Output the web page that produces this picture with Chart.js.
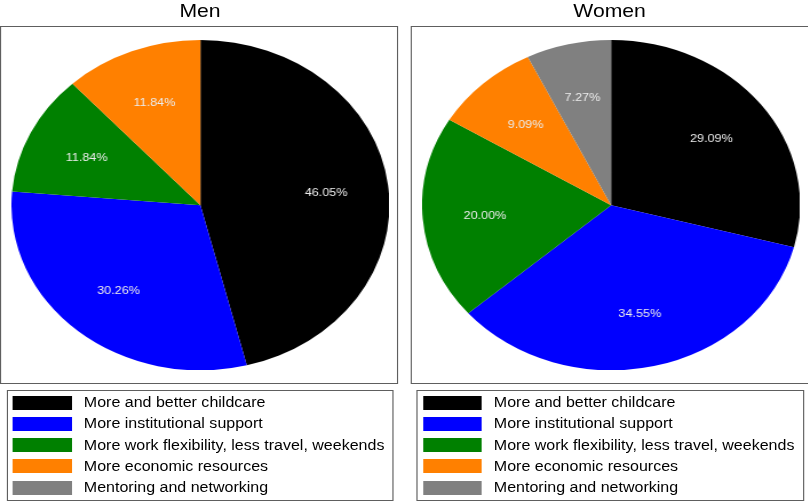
<!DOCTYPE html>
<html>
<head>
<meta charset="utf-8">
<script src="https://cdn.jsdelivr.net/npm/chart.js@4/dist/chart.umd.min.js"></script>
<style>
  html, body { margin: 0; padding: 0; background: #fff; overflow: hidden; }
  body { width: 808px; height: 501px; }
  /* the graph is laid out in a narrower frame and widened horizontally */
  #frame {
    position: absolute; left: 0; top: 0;
    width: 706.3px; height: 501px;
    transform: scaleX(1.144); transform-origin: 0 0;
    font-family: "Liberation Sans", Arial, Helvetica, sans-serif;
    color: #000;
  }
  .title { position: absolute; top: 1px; width: 200px; text-align: center;
           font-size: 18.5px; line-height: 20px; }
  .plotbox { position: absolute; border: 1px solid #5e5e5e; box-sizing: border-box; }
  .legbox { position: absolute; border: 1px solid #5e5e5e; box-sizing: border-box; }
  .sw { position: absolute; height: 14px; }
  .lt { position: absolute; font-size: 14px; height: 21px; line-height: 21px; white-space: nowrap; }
  .pie { position: absolute; width: 330.4px; height: 330.4px; }
</style>
</head>
<body>
<div id="frame">
  <div class="title" style="left:74.8px">Men</div>
  <div class="title" style="left:432.9px">Women</div>

  <div class="plotbox" style="left:0.4px; top:25.5px; width:347.7px; height:358.5px"></div>
  <div class="plotbox" style="left:358.8px; top:25.5px; width:360px; height:358.5px"></div>

  <div class="pie" style="left:9.6px; top:40.1px"><canvas id="men"></canvas></div>
  <div class="pie" style="left:368.5px; top:40.1px"><canvas id="women"></canvas></div>

  <div class="legbox" id="legMen" style="left:5.9px; top:389.5px; width:338.5px; height:111px"></div>
  <div class="legbox" id="legWomen" style="left:364.0px; top:389.5px; width:339px; height:111px"></div>
</div>

<script>
// Categories and shares (%) of each answer
const categories = [
  "More and better childcare",
  "More institutional support",
  "More work flexibility, less travel, weekends",
  "More economic resources",
  "Mentoring and networking"
];
const menShares   = [46.05, 30.26, 11.84, 11.84, 0];
const womenShares = [29.09, 34.55, 20.00, 9.09, 7.27];
const sliceColors = ["#000000", "#0000ff", "#008000", "#ff8000", "#808080"];

// Percentage labels placed inside each slice
const sliceLabels = {
  id: "sliceLabels",
  afterDatasetsDraw(chart) {
    const ctx = chart.ctx;
    const meta = chart.getDatasetMeta(0);
    const values = chart.data.datasets[0].data;
    ctx.save();
    ctx.font = '11px "Liberation Sans", Arial, sans-serif';
    ctx.fillStyle = "#ececec";
    ctx.textAlign = "center";
    ctx.textBaseline = "middle";
    meta.data.forEach((arc, i) => {
      if (!values[i]) return;
      const p = arc.getProps(["x", "y", "startAngle", "endAngle", "outerRadius"], true);
      const mid = (p.startAngle + p.endAngle) / 2;
      const r = p.outerRadius * 0.67;
      ctx.fillText(values[i].toFixed(2) + "%", p.x + Math.cos(mid) * r, p.y + Math.sin(mid) * r + 1);
    });
    ctx.restore();
  }
};

function makePie(id, values) {
  new Chart(document.getElementById(id), {
    type: "pie",
    data: {
      labels: categories,
      datasets: [{ data: values, backgroundColor: sliceColors, borderWidth: 0 }]
    },
    options: {
      responsive: true,
      maintainAspectRatio: false,
      animation: false,
      layout: { padding: 0 },
      plugins: { legend: { display: false }, tooltip: { enabled: false } }
    },
    plugins: [sliceLabels]
  });
}
makePie("men", menShares);
makePie("women", womenShares);

// Legend keys listed one per row
function makeLegend(boxId, swLeft, textLeft) {
  const frame = document.getElementById("frame");
  const box = document.getElementById(boxId);
  const left0 = parseFloat(box.style.left);
  categories.forEach((name, i) => {
    const cy = 402.5 + 21.3 * i;
    const sw = document.createElement("div");
    sw.className = "sw";
    sw.style.left = (left0 + swLeft) + "px";
    sw.style.width = "51.6px";
    sw.style.top = (cy - 7) + "px";
    sw.style.background = sliceColors[i];
    frame.appendChild(sw);
    const t = document.createElement("div");
    t.className = "lt";
    t.style.left = (left0 + textLeft) + "px";
    t.style.top = (cy - 10.5) + "px";
    t.textContent = name;
    frame.appendChild(t);
  });
}
makeLegend("legMen", 5.4, 67.4);
makeLegend("legWomen", 5.5, 67.7);
</script>
</body>
</html>
